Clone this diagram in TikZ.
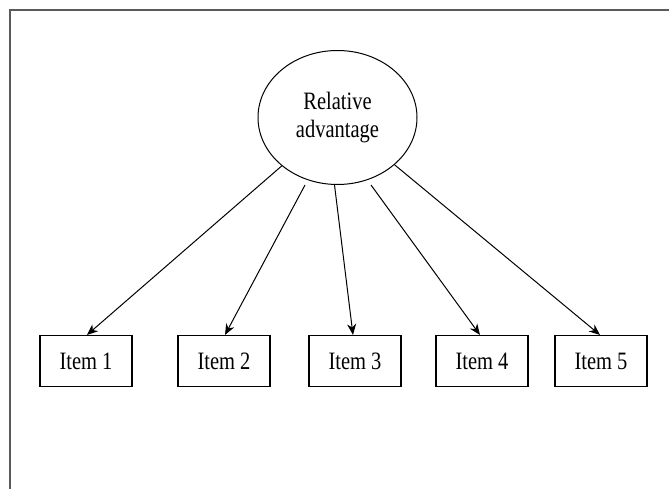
\documentclass[tikz,border=0pt]{standalone}
\usepackage{fontspec}
\setmainfont{Liberation Serif}[FakeStretch=0.82]
\usetikzlibrary{arrows.meta,shapes.geometric}
\definecolor{framegray}{RGB}{90,90,90}
\begin{document}
\begin{tikzpicture}[x=1pt,y=-1pt,
  every node/.style={font=\fontsize{25}{28}\selectfont},
  construct/.style={draw,ellipse,line width=1pt,minimum width=159pt,minimum height=134pt,inner sep=0pt,align=center},
  itembox/.style={draw,rectangle,line width=1.1pt,minimum width=92pt,minimum height=51pt,inner sep=0pt},
  loading/.style={line width=1pt,-{Stealth[length=11pt,width=9pt,inset=3.5pt]}},
  frame/.style={draw=framegray}]
  \useasboundingbox (0,0) rectangle (669,489);
  % open frame: left and top edges only
  \draw[frame,line width=2pt] (9.5,489) -- (9.5,10);
  \draw[frame,line width=1.2pt] (8.5,10) -- (669,10);

  % latent construct
  \node[construct] (rel) at (337.5,117.5) {Relative\\advantage};

  % indicator items
  \node[itembox] (i1) at (86,361)  {Item 1};
  \node[itembox] (i2) at (224,361) {Item 2};
  \node[itembox] (i3) at (355,361) {Item 3};
  \node[itembox] (i4) at (482,361) {Item 4};
  \node[itembox] (i5) at (601,361) {Item 5};

  % start points of the inner loadings, just below the ellipse
  \coordinate (s2) at (305,185);
  \coordinate (s3) at (334.5,185);
  \coordinate (s4) at (371,185);

  % loadings
  \draw[loading] (rel) -- ([xshift=1pt]i1.north);
  \draw[loading] (s2) -- ([xshift=1pt]i2.north);
  \draw[loading] (s3) -- ([xshift=-2pt]i3.north);
  \draw[loading] (s4) -- ([xshift=-2pt]i4.north);
  \draw[loading] (rel) -- ([xshift=-1pt]i5.north);
\end{tikzpicture}
\end{document}
